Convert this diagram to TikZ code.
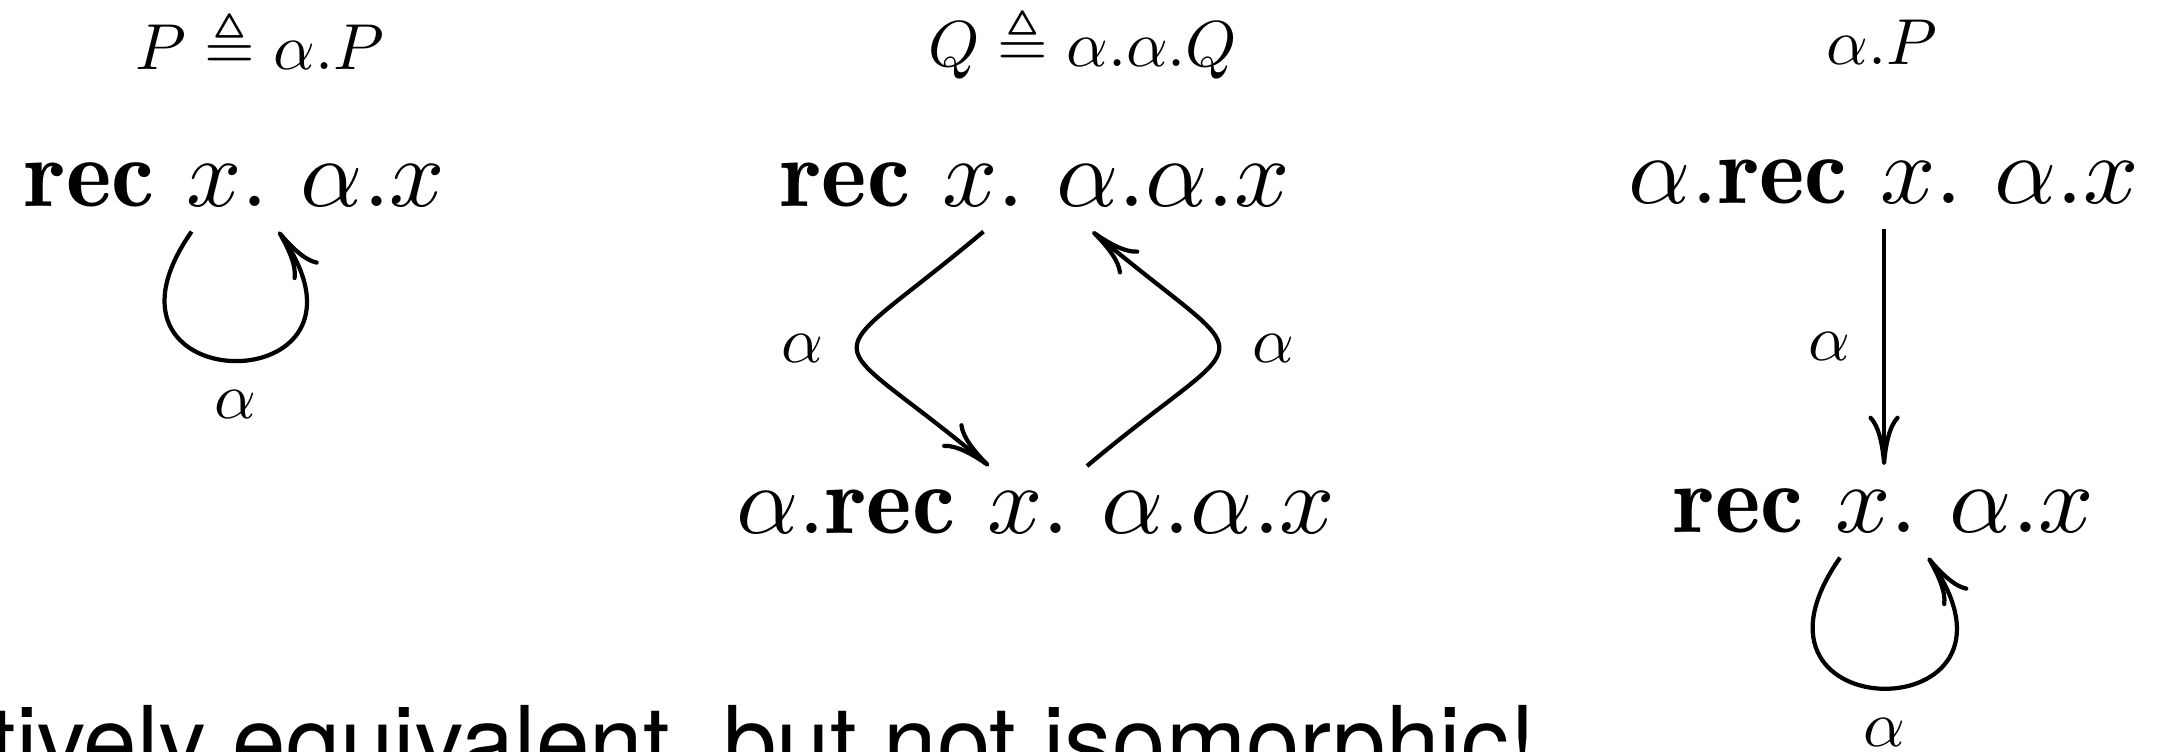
\documentclass[tikz,border=0pt]{standalone}
\usepackage{amssymb}
\usepackage{graphicx}
\usepackage{fontspec}
\newfontfamily\heros{TeX Gyre Heros}
\usetikzlibrary{arrows.meta}
\newcommand\proc[1]{\scalebox{1.49}{$#1$}}

\begin{document}
\begin{tikzpicture}[
    state/.style={inner sep=3.7pt, outer sep=0pt, anchor=base},
    head/.style={anchor=base},
    trans/.style={-{Computer Modern Rightarrow[length=7.6pt,width=4.8pt]}, line width=0.65pt}
  ]
    \useasboundingbox (0,0) rectangle (11.68,4.066);

    % Left column: P defined by a single action
    \node[head] (tP) at (1.406,3.688) {$P \triangleq \alpha.P$};
    \node[state] (r1) at (1.271,2.947) {\proc{\mathbf{rec}\ x.\ \alpha.x}};
    \draw[trans] ([xshift=-0.235cm]r1.south) to[out=-125,in=-55,looseness=6.2]
      node[below=1pt] (l1) {$\alpha$} ([xshift=0.235cm]r1.south);

    % Middle column: Q unfolds twice
    \node[head] (tQ) at (5.856,3.709) {$Q \triangleq \alpha.\alpha.Q$};
    \node[state] (q1) at (5.599,2.947) {\proc{\mathbf{rec}\ x.\ \alpha.\alpha.x}};
    \node[state] (q2) at (5.602,1.179) {\proc{\alpha.\mathbf{rec}\ x.\ \alpha.\alpha.x}};
    \draw[trans] ([xshift=-0.281cm]q1.south) to[out=220,in=140,looseness=2.45]
      node[left=1.5pt] (l2) {$\alpha$} ([xshift=-0.254cm]q2.north);
    \draw[trans] ([xshift=0.276cm]q2.north) to[out=40,in=-40,looseness=2.45]
      node[right=1.5pt] (l3) {$\alpha$} ([xshift=0.308cm]q1.south);

    % Right column: alpha.P
    \node[head] (tA) at (10.177,3.715) {$\alpha.P$};
    \node[state] (p1) at (10.188,2.963) {\proc{\alpha.\mathbf{rec}\ x.\ \alpha.x}};
    \node[state] (p2) at (10.188,1.184) {\proc{\mathbf{rec}\ x.\ \alpha.x}};
    \draw[trans] (p1) -- node[left=1.5pt] (l4) {$\alpha$} (p2);
    \draw[trans] ([xshift=-0.238cm]p2.south) to[out=-125,in=-55,looseness=6.2]
      node[below=1pt] (l5) {$\alpha$} ([xshift=0.238cm]p2.south);

    % Remark along the bottom edge
    \node[anchor=base west, inner sep=0pt, font=\heros\fontsize{14.8}{17.8}\selectfont]
      (note) at (-0.065,-0.130) {tively equivalent, but not isomorphic!};
\end{tikzpicture}
\end{document}
